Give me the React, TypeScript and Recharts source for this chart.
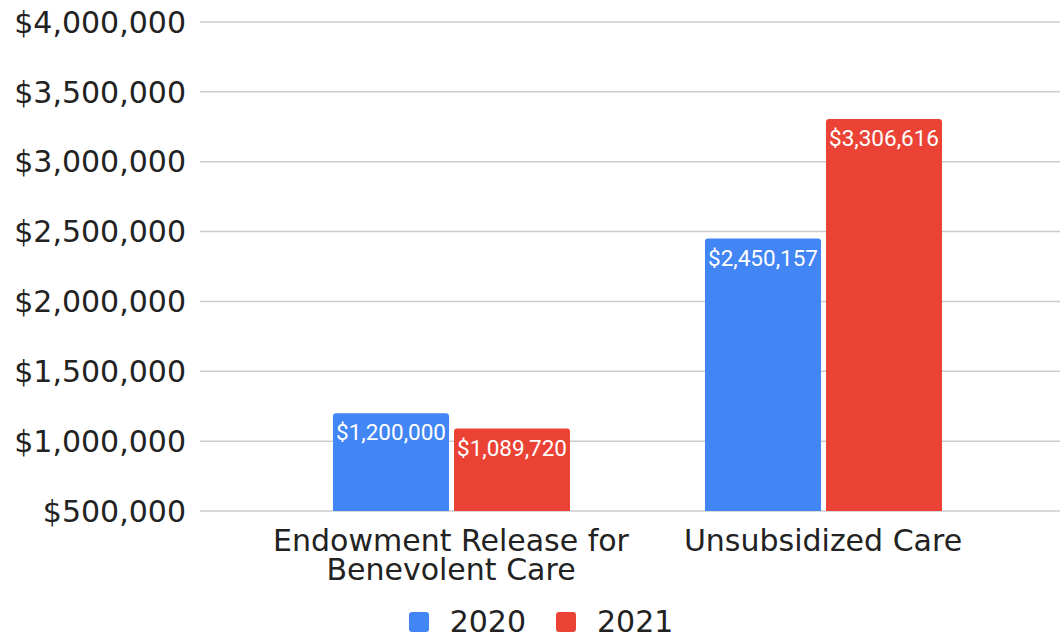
import React from "react";
import { BarChart, Bar, XAxis, YAxis, CartesianGrid, Legend, LabelList } from "recharts";

const categories = ["Endowment Release for Benevolent Care", "Unsubsidized Care"];
const categoryLines = [["Endowment Release for", "Benevolent Care"], ["Unsubsidized Care"]];
const values2020 = [1200000, 2450157];
const values2021 = [1089720, 3306616];
const yTicks = [500000, 1000000, 1500000, 2000000, 2500000, 3000000, 3500000, 4000000];
const seriesNames = ["2020", "2021"];
const colors = ["#4285F4", "#EA4335"];

const data = categories.map((c, i) => ({ name: c, s2020: values2020[i], s2021: values2021[i] }));

const fmt = (v: number) => "$" + v.toLocaleString("en-US");
const axisFont = "'DejaVu Sans', Verdana, sans-serif";

const XTick = (props: any) => {
  const { x, y, payload } = props;
  const idx = categories.indexOf(payload.value);
  const lines = idx >= 0 ? categoryLines[idx] : [payload.value];
  return (
    <text x={x} y={y} textAnchor="middle" fill="#222" fontSize={30} fontFamily={axisFont}>
      {lines.map((l: string, i: number) => (
        <tspan key={i} x={x} dy={i === 0 ? 32 : 29}>{l}</tspan>
      ))}
    </text>
  );
};

const LegendContent = () => (
  <div style={{ display: "flex", justifyContent: "center", alignItems: "center", height: 53, paddingTop: 18, paddingLeft: 22, boxSizing: "border-box", fontFamily: axisFont, fontSize: 30, color: "#222" }}>
    {seriesNames.map((n, i) => (
      <div key={n} style={{ display: "flex", alignItems: "center", marginLeft: i === 0 ? 0 : 30 }}>
        <div style={{ width: 20, height: 20, background: colors[i], borderRadius: 3, marginRight: 21 }} />
        <span>{n}</span>
      </div>
    ))}
  </div>
);

export default function App() {
  return (
    <div style={{ position: "absolute", left: 0, top: 0, width: 1060, height: 639, background: "#fff" }}>
      <BarChart width={1060} height={639} data={data} margin={{ top: 22, right: 0, left: 0, bottom: 0 }} barGap={5} barSize={116}>
        <CartesianGrid vertical={false} stroke="#cccccc" strokeWidth={1.5} />
        <XAxis dataKey="name" axisLine={false} tickLine={false} tick={<XTick />} height={75} interval={0} padding={{ left: 65, right: 51 }} />
        <YAxis width={200} domain={[500000, 4000000]} ticks={yTicks} allowDataOverflow axisLine={false} tickLine={false}
          tickFormatter={fmt} tick={{ fill: "#222", fontSize: 30, fontFamily: axisFont, textAnchor: "end", dx: -2 }} tickMargin={6} />
        <Legend verticalAlign="bottom" height={53} content={<LegendContent />} />
        <Bar dataKey="s2020" name="2020" fill={colors[0]} radius={[3, 3, 0, 0]} isAnimationActive={false}>
          <LabelList dataKey="s2020" position="insideTop" offset={11} formatter={(v: any) => fmt(Number(v))} fill="#fff" fontSize={22.5} fontFamily="Roboto, sans-serif" />
        </Bar>
        <Bar dataKey="s2021" name="2021" fill={colors[1]} radius={[3, 3, 0, 0]} isAnimationActive={false}>
          <LabelList dataKey="s2021" position="insideTop" offset={11} formatter={(v: any) => fmt(Number(v))} fill="#fff" fontSize={22.5} fontFamily="Roboto, sans-serif" />
        </Bar>
      </BarChart>
    </div>
  );
}
